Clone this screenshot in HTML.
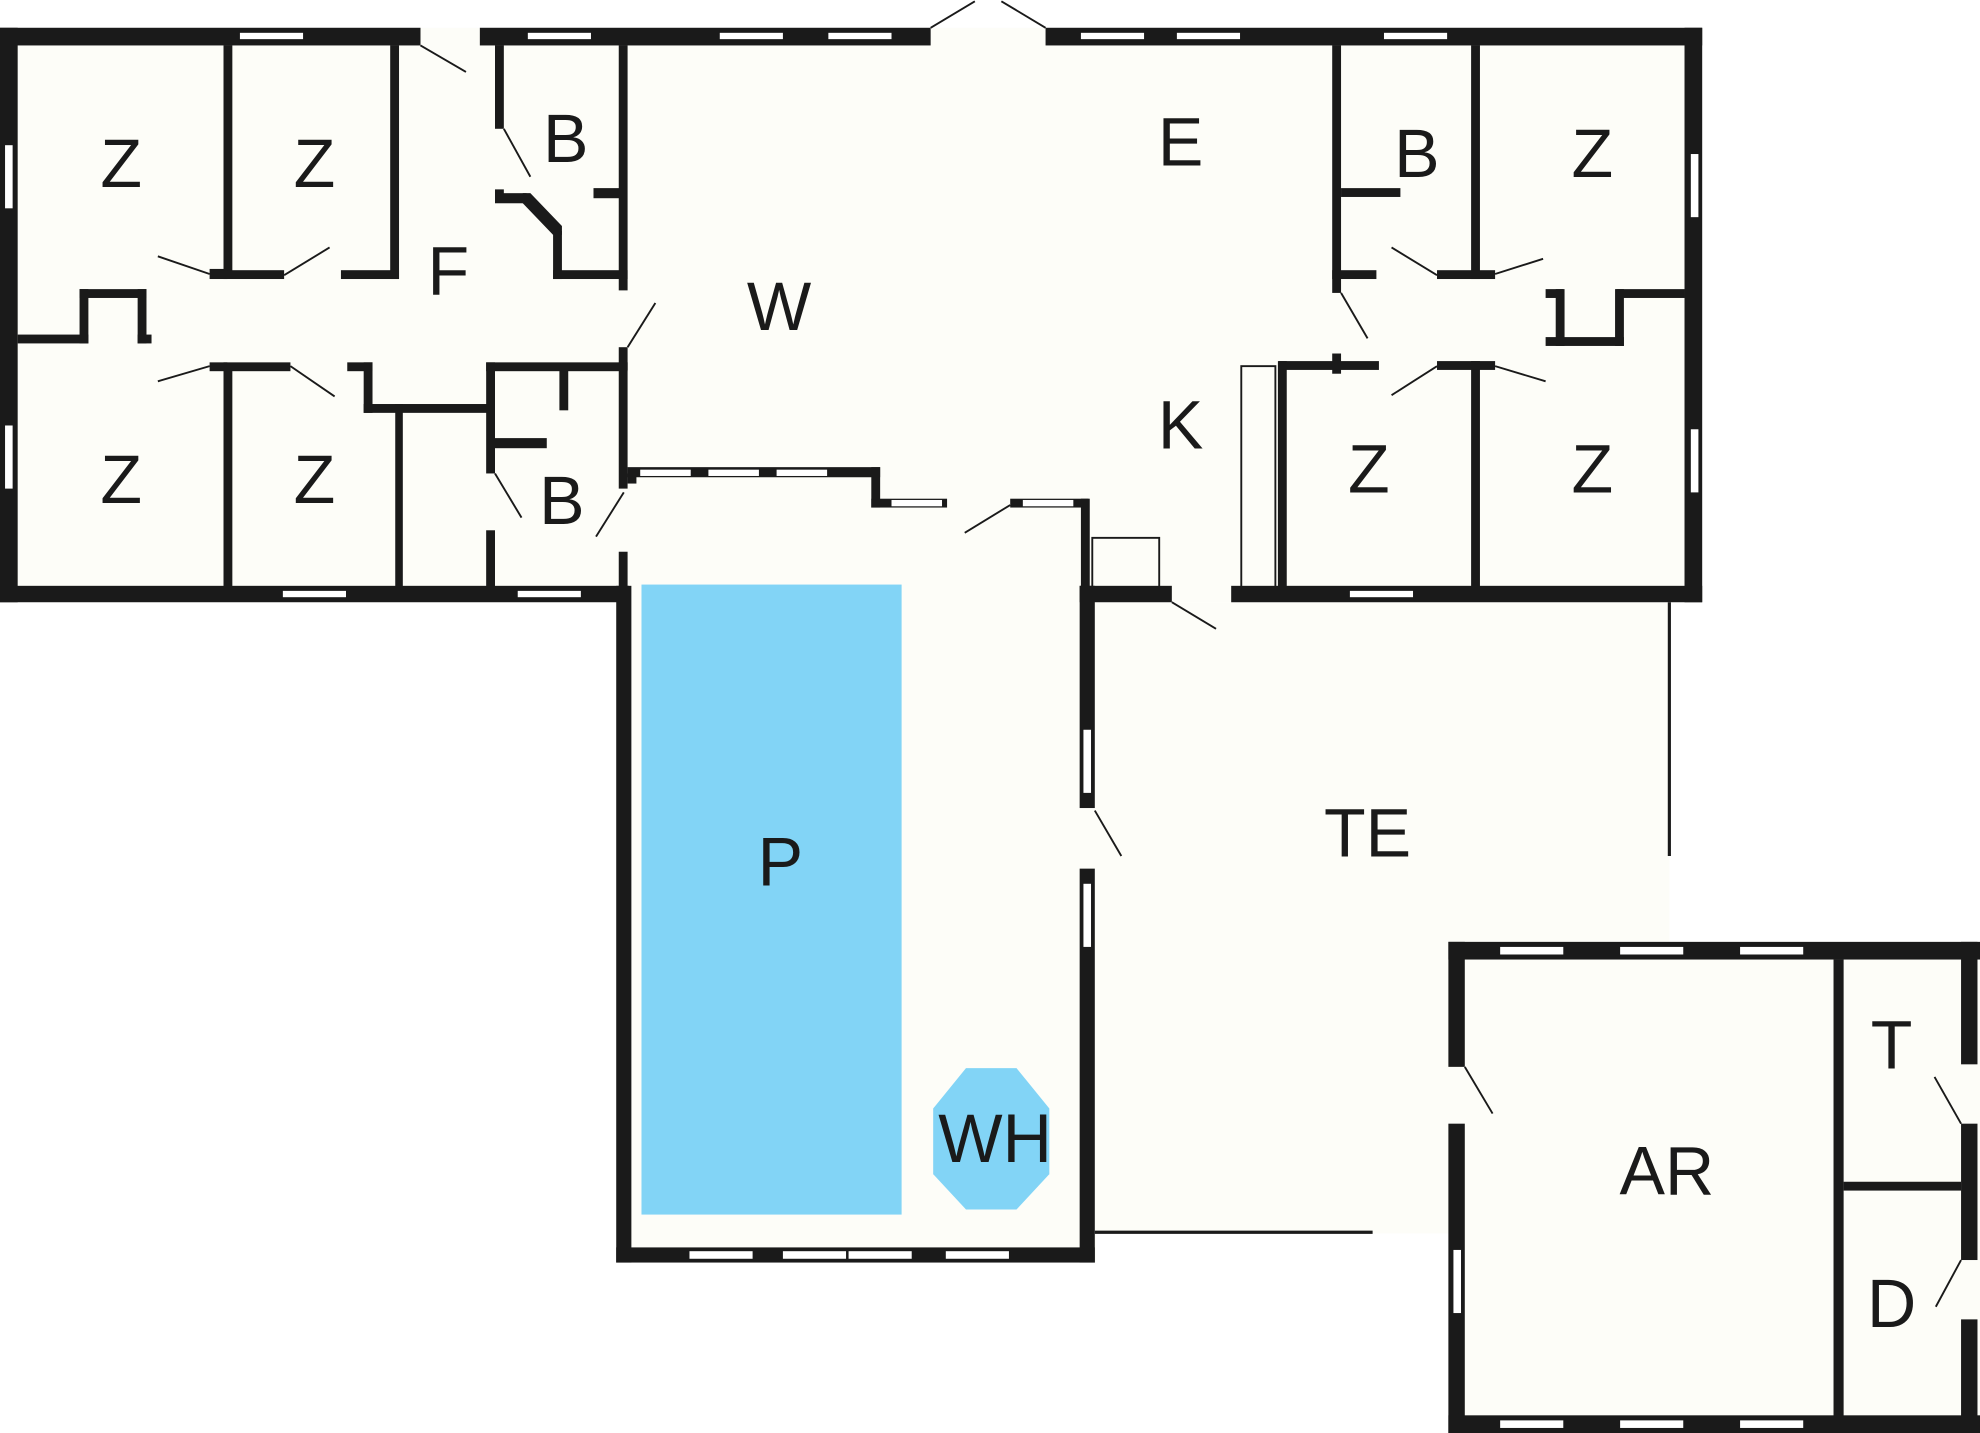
<!DOCTYPE html>
<html><head><meta charset="utf-8"><style>
html,body{margin:0;padding:0;background:#fff;width:1980px;height:1433px;overflow:hidden}
svg{display:block}
text{font-family:"Liberation Sans",sans-serif;font-size:54px;fill:#1a1a1a;text-anchor:middle;dominant-baseline:central}
</style></head><body>
<svg width="1980" height="1433" viewBox="0 0 1568 1135" preserveAspectRatio="none">
<g fill="#fdfdf8">
<rect x="0" y="22" width="1348" height="455"/>
<rect x="488" y="370" width="380" height="630"/>
<rect x="867" y="477" width="455" height="500"/>
<rect x="1147" y="746" width="421" height="389"/>
</g>
<rect x="508" y="463" width="206" height="499" fill="#82d4f6"/>
<polygon points="765,846 805,846 831,878 831,930 805,958 765,958 739,930 739,878" fill="#82d4f6"/>
<g fill="#1a1a1a">
<rect x="0" y="22" width="333" height="14"/>
<rect x="380" y="22" width="357" height="14"/>
<rect x="828" y="22" width="520" height="14"/>
<rect x="0" y="22" width="14" height="455"/>
<rect x="1334" y="22" width="14" height="455"/>
<rect x="0" y="464" width="498" height="13"/>
<rect x="855" y="464" width="73" height="13"/>
<rect x="975" y="464" width="373" height="13"/>
<rect x="177" y="36" width="7" height="182"/>
<rect x="177" y="288" width="7" height="177"/>
<rect x="309" y="36" width="7" height="185"/>
<rect x="177" y="214" width="48" height="7"/>
<rect x="270" y="214" width="46" height="7"/>
<rect x="166" y="213" width="14" height="8"/>
<rect x="14" y="265" width="56" height="7"/>
<rect x="63" y="229" width="7" height="43"/>
<rect x="63" y="229" width="53" height="7"/>
<rect x="109" y="229" width="7" height="43"/>
<rect x="109" y="265" width="11" height="7"/>
<rect x="166" y="287" width="14" height="7"/>
<rect x="177" y="287" width="53" height="7"/>
<rect x="275" y="287" width="20" height="7"/>
<rect x="288" y="287" width="7" height="40"/>
<rect x="288" y="320" width="104" height="7"/>
<rect x="313" y="320" width="6" height="145"/>
<rect x="385" y="287" width="7" height="88"/>
<rect x="385" y="420" width="7" height="45"/>
<rect x="385" y="287" width="112" height="7"/>
<rect x="443" y="293" width="7" height="32"/>
<rect x="392" y="347" width="41" height="8"/>
<rect x="392" y="36" width="7" height="66"/>
<rect x="392" y="150" width="7" height="10"/>
<rect x="392" y="153" width="25" height="8"/>
<polygon points="414,153 420,153 445,179 445,186 438,186 414,161"/>
<rect x="438" y="183" width="7" height="38"/>
<rect x="438" y="214" width="59" height="7"/>
<rect x="470" y="149" width="22" height="8"/>
<rect x="490" y="36" width="7" height="194"/>
<rect x="490" y="275" width="7" height="18"/>
<rect x="490" y="287" width="7" height="100"/>
<rect x="490" y="437" width="7" height="28"/>
<rect x="497" y="375" width="7" height="8"/>
<rect x="488" y="464" width="12" height="536"/>
<rect x="488" y="988" width="379" height="12"/>
<rect x="855" y="464" width="12" height="176"/>
<rect x="855" y="688" width="12" height="312"/>
<rect x="497" y="370" width="200" height="8"/>
<rect x="690" y="370" width="7" height="32"/>
<rect x="690" y="395" width="60" height="7"/>
<rect x="800" y="395" width="62" height="7"/>
<rect x="856" y="395" width="7" height="70"/>
<rect x="1055" y="36" width="7" height="196"/>
<rect x="1055" y="280" width="7" height="16"/>
<rect x="1062" y="149" width="47" height="7"/>
<rect x="1055" y="214" width="35" height="7"/>
<rect x="1138" y="214" width="46" height="7"/>
<rect x="1165" y="36" width="7" height="185"/>
<rect x="1280" y="229" width="54" height="7"/>
<rect x="1279" y="229" width="7" height="45"/>
<rect x="1236" y="267" width="50" height="7"/>
<rect x="1232" y="229" width="7" height="45"/>
<rect x="1224" y="229" width="14" height="7"/>
<rect x="1224" y="267" width="14" height="7"/>
<rect x="1013" y="286" width="79" height="7"/>
<rect x="1138" y="286" width="46" height="7"/>
<rect x="1012" y="286" width="7" height="179"/>
<rect x="1165" y="286" width="7" height="179"/>
<rect x="1147" y="746" width="421" height="14"/>
<rect x="1147" y="1121" width="421" height="14"/>
<rect x="1147" y="746" width="13" height="99"/>
<rect x="1147" y="890" width="13" height="245"/>
<rect x="1553" y="746" width="13" height="97"/>
<rect x="1553" y="890" width="13" height="108"/>
<rect x="1553" y="1045" width="13" height="90"/>
<rect x="1452" y="760" width="8" height="362"/>
<rect x="1460" y="936" width="93" height="7"/>
</g>
<g fill="#fff">
<rect x="190" y="26" width="50" height="5"/><rect x="418" y="26" width="50" height="5"/>
<rect x="570" y="26" width="50" height="5"/><rect x="656" y="26" width="50" height="5"/>
<rect x="856" y="26" width="50" height="5"/><rect x="932" y="26" width="50" height="5"/>
<rect x="1096" y="26" width="50" height="5"/>
<rect x="4" y="115" width="6" height="50"/><rect x="4" y="337" width="6" height="50"/>
<rect x="1339" y="122" width="6" height="50"/><rect x="1339" y="340" width="6" height="50"/>
<rect x="224" y="468" width="50" height="5"/><rect x="410" y="468" width="50" height="5"/>
<rect x="1069" y="468" width="50" height="5"/>
<rect x="507" y="372" width="40" height="5"/><rect x="561" y="372" width="40" height="5"/><rect x="615" y="372" width="40" height="5"/>
<rect x="706" y="396" width="40" height="5"/><rect x="810" y="396" width="40" height="5"/>
<rect x="546" y="991" width="50" height="6"/><rect x="620" y="991" width="50" height="6"/><rect x="672" y="991" width="50" height="6"/><rect x="749" y="991" width="50" height="6"/>
<rect x="858" y="578" width="6" height="50"/><rect x="858" y="700" width="6" height="50"/>
<rect x="1188" y="750" width="50" height="6"/><rect x="1283" y="750" width="50" height="6"/><rect x="1378" y="750" width="50" height="6"/>
<rect x="1188" y="1125" width="50" height="6"/><rect x="1283" y="1125" width="50" height="6"/><rect x="1378" y="1125" width="50" height="6"/>
<rect x="1151" y="990" width="6" height="50"/>
</g>
<g stroke="#1a1a1a" stroke-width="1.5" fill="none">
<line x1="333" y1="36" x2="369" y2="57"/>
<line x1="737" y1="22" x2="772" y2="1"/><line x1="828" y1="22" x2="793" y2="1"/>
<line x1="399" y1="102" x2="420" y2="140"/>
<line x1="225" y1="218" x2="261" y2="196"/>
<line x1="166" y1="217" x2="125" y2="203"/>
<line x1="166" y1="290" x2="125" y2="302"/>
<line x1="230" y1="290" x2="265" y2="314"/>
<line x1="497" y1="275" x2="519" y2="240"/>
<line x1="392" y1="375" x2="413" y2="410"/>
<line x1="494" y1="390" x2="472" y2="425"/>
<line x1="800" y1="400" x2="764" y2="422"/>
<line x1="928" y1="477" x2="963" y2="498"/>
<line x1="867" y1="642" x2="888" y2="678"/>
<line x1="1138" y1="218" x2="1102" y2="196"/>
<line x1="1184" y1="217" x2="1222" y2="205"/>
<line x1="1062" y1="232" x2="1083" y2="268"/>
<line x1="1138" y1="290" x2="1102" y2="313"/>
<line x1="1184" y1="290" x2="1224" y2="302"/>
<line x1="1160" y1="845" x2="1182" y2="882"/>
<line x1="1553" y1="890" x2="1532" y2="853"/>
<line x1="1553" y1="998" x2="1533" y2="1035"/>
<rect x="865" y="426" width="53" height="39"/>
<rect x="983" y="290" width="27" height="175"/>
<line x1="867" y1="976" x2="1087" y2="976" stroke-width="2.5"/>
<line x1="1322" y1="477" x2="1322" y2="678" stroke-width="2.5"/>
</g>
<text x="96" y="130">Z</text><text x="249" y="130">Z</text>
<text x="96" y="380">Z</text><text x="249" y="380">Z</text>
<text x="355" y="215">F</text><text x="448" y="110">B</text><text x="445" y="397">B</text>
<text x="935" y="113">E</text><text x="617" y="243">W</text><text x="935" y="337">K</text>
<text x="1122" y="122">B</text><text x="1261" y="122">Z</text>
<text x="1084" y="372">Z</text><text x="1261" y="372">Z</text>
<text x="1083" y="660">TE</text><text x="618" y="683">P</text><text x="788" y="902">WH</text>
<text x="1320" y="928">AR</text><text x="1498" y="828">T</text><text x="1498" y="1033">D</text>
</svg>
</body></html>
